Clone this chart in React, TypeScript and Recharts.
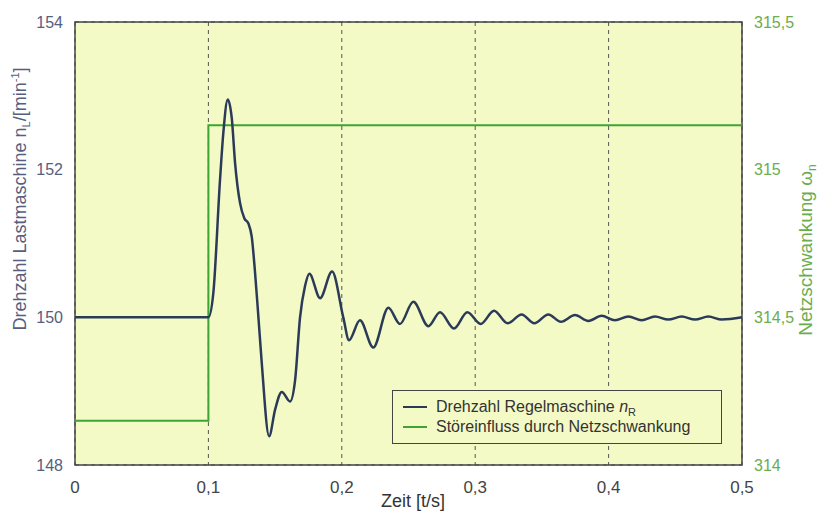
import { LineChart, Line, XAxis, YAxis, CartesianGrid, ReferenceArea } from "recharts";

// Drehzahl Regelmaschine (left axis, min^-1)
const speedTime = [
  0, 0.1, 0.1037, 0.1087, 0.1112, 0.1145, 0.1175, 0.12, 0.1237, 0.127, 0.13, 0.1325, 0.135, 0.1375,
  0.14, 0.1455, 0.15, 0.155, 0.1612, 0.165, 0.1687, 0.1724, 0.1757, 0.1837, 0.1927, 0.2011,
  0.2054, 0.2136, 0.2236, 0.2349, 0.2436, 0.2536, 0.2649, 0.2736, 0.2841, 0.2941, 0.3041,
  0.3141, 0.3243, 0.3348, 0.3443, 0.3548, 0.3643, 0.3748, 0.3848, 0.3948, 0.4048, 0.4148,
  0.4248, 0.4348, 0.4448, 0.4548, 0.4648, 0.4748, 0.4848, 0.5,
];
const speedValues = [
  150, 150, 150.33, 151.86, 152.5, 152.95, 152.7, 152.09, 151.55, 151.34, 151.27, 151.09, 150.6, 150,
  149.38, 148.39, 148.75, 148.99, 148.86, 149.15, 150, 150.42, 150.59, 150.26, 150.62, 150,
  149.69, 149.96, 149.59, 150.13, 149.91, 150.21, 149.88, 150.07, 149.85, 150.07, 149.91,
  150.09, 149.92, 150.04, 149.92, 150.04, 149.94, 150.03, 149.95, 150.02, 149.96, 150.01,
  149.96, 150.01, 149.97, 150.01, 149.97, 150.01, 149.97, 150,
];

// Störeinfluss durch Netzschwankung (right axis)
const gridTime = [0, 0.1, 0.5];
const gridValues = [314.15, 315.15, 315.15];

const xTicks = [0, 0.1, 0.2, 0.3, 0.4, 0.5];
const leftTicks = [148, 150, 152, 154];
const rightTicks = [314, 314.5, 315, 315.5];

const speedData = speedTime.map((t, i) => ({ t, n: speedValues[i] }));
const gridData = gridTime.map((t, i) => ({ t, w: gridValues[i] }));

const FONT = "'Liberation Sans', Arial, sans-serif";
const BLUE = "#2b3a58";
const GREEN = "#3da531";
const fmt = (v: number) => String(v).replace(".", ",");

const LegendBox = () => (
  <div
    style={{
      position: "absolute",
      left: 392,
      top: 390,
      width: 330,
      boxSizing: "border-box",
      border: "1.5px solid #444",
      background: "#f4fac6",
      padding: "6px 10px",
      fontFamily: FONT,
      fontSize: 16,
      color: "#333",
      lineHeight: "20px",
    }}
  >
    <div style={{ display: "flex", alignItems: "center" }}>
      <span style={{ width: 24, height: 2, background: BLUE, marginRight: 9 }} />
      <span>
        Drehzahl Regelmaschine <i>n</i>
        <sub style={{ fontSize: 11, lineHeight: 0 }}>R</sub>
      </span>
    </div>
    <div style={{ display: "flex", alignItems: "center" }}>
      <span style={{ width: 24, height: 2, background: GREEN, marginRight: 9 }} />
      <span>Störeinfluss durch Netzschwankung</span>
    </div>
  </div>
);

export default function App() {
  return (
    <div style={{ position: "absolute", left: 0, top: 0, width: 819, height: 511, background: "#fff" }}>
      <LineChart width={819} height={511} margin={{ top: 22, right: 0, bottom: 0, left: 0 }}>
        <CartesianGrid stroke="#555" strokeDasharray="4 4" fill="#f4fac6" />
        <XAxis
          dataKey="t"
          type="number"
          domain={[0, 0.5]}
          ticks={xTicks}
          tickFormatter={fmt}
          height={46}
          axisLine={false}
          tickLine={false}
          tickMargin={10}
          tick={{ fill: "#444", fontSize: 17, fontFamily: FONT }}
          label={{
            content: () => (
              <text x={413} y={507} textAnchor="middle" fill="#333" style={{ fontSize: 18, fontFamily: FONT }}>
                Zeit [t/s]
              </text>
            ),
          }}
        />
        <YAxis
          yAxisId="left"
          domain={[148, 154]}
          ticks={leftTicks}
          width={75}
          axisLine={false}
          tickLine={false}
          tickMargin={6}
          tick={{ fill: "#56607e", fontSize: 16, fontFamily: FONT }}
          label={{
            content: () => (
              <text transform="translate(26,199) rotate(-90)" textAnchor="middle" fill="#56607e" fontSize={18} fontFamily={FONT}>
                Drehzahl Lastmaschine n
                <tspan fontSize={11} dy={4}>L</tspan>
                <tspan dy={-4}>/[min</tspan>
                <tspan fontSize={11} dy={-7}>-1</tspan>
                <tspan dy={7}>]</tspan>
              </text>
            ),
          }}
        />
        <YAxis
          yAxisId="right"
          orientation="right"
          domain={[314, 315.5]}
          ticks={rightTicks}
          tickFormatter={fmt}
          width={77}
          axisLine={false}
          tickLine={false}
          tickMargin={6}
          tick={{ fill: "#6aad4e", fontSize: 16, fontFamily: FONT }}
          label={{
            content: () => (
              <text transform="translate(812,250) rotate(-90)" textAnchor="middle" fill="#6aad4e" fontSize={19} fontFamily={FONT}>
                Netzschwankung ω
                <tspan fontSize={12} dy={4}>n</tspan>
              </text>
            ),
          }}
        />
        <ReferenceArea yAxisId="left" x1={0} x2={0.5} y1={148} y2={154} fill="none" stroke="#444" strokeWidth={1.5} />
        <Line
          yAxisId="right"
          data={gridData}
          dataKey="w"
          type="stepAfter"
          stroke={GREEN}
          strokeWidth={2}
          dot={false}
          isAnimationActive={false}
        />
        <Line
          yAxisId="left"
          data={speedData}
          dataKey="n"
          type="monotone"
          stroke={BLUE}
          strokeWidth={2.5}
          dot={false}
          isAnimationActive={false}
        />
      </LineChart>
      <LegendBox />
    </div>
  );
}
